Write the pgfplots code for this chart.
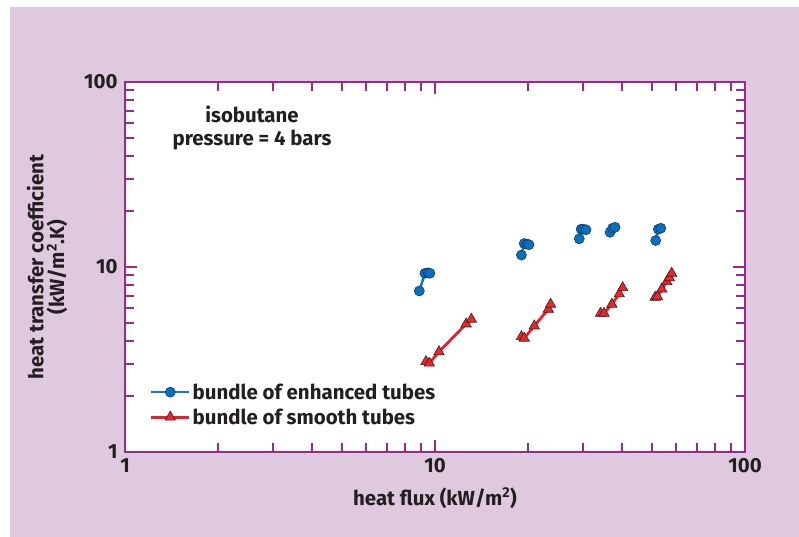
\documentclass[border=0pt]{standalone}
\usepackage{fontspec}
\setmainfont{Fira Sans}
\usepackage{pgfplots}
\pgfplotsset{compat=1.18}
\definecolor{bgpink}{HTML}{DFC9DF}
\definecolor{axpurple}{HTML}{9B2790}
\definecolor{bluefill}{HTML}{0A6FBF}
\definecolor{blueline}{HTML}{1A75C2}
\definecolor{blueedge}{HTML}{0B3D6B}
\definecolor{redfill}{HTML}{E8262C}
\definecolor{redline}{HTML}{E8202A}
\definecolor{rededge}{HTML}{3A2020}
\definecolor{txt}{HTML}{231F20}
\begin{document}
\begin{tikzpicture}[x=1bp,y=1bp]
\fill[white] (0,0) rectangle (799,537);
\fill[bgpink] (10,0) rectangle (799,530);
\begin{axis}[
  at={(125bp,85bp)}, anchor=south west,
  width=620bp, height=370bp, scale only axis,
  xmode=log, ymode=log,
  xmin=1, xmax=100, ymin=1, ymax=100,
  xtick={1,10,100}, xticklabels={1,10,100},
  ytick={1,10,100}, yticklabels={1,10,100},
  axis background/.style={fill=white},
  axis line style={axpurple, line width=2bp},
  every tick/.style={axpurple, line width=2bp},
  major tick length=12bp, minor tick length=9bp,
  tick align=inside,
  font=\fontsize{20.5}{24}\selectfont\bfseries\color{txt},
  tick label style={font=\fontsize{20.5}{24}\selectfont\bfseries\color{txt}},
  yticklabel style={xshift=-4bp},
  xticklabel style={yshift=-3bp},
  xlabel={heat flux (kW/m\textsuperscript{2})},
  ylabel={\begin{tabular}{c}heat transfer coefficient\\[-4bp](kW/m\textsuperscript{2}.K)\end{tabular}},
  xlabel style={yshift=-8bp},
  ylabel style={yshift=6bp},
  unbounded coords=jump,
  legend style={at={(0.035,0.06)}, anchor=south west, draw=none, fill=none,
    font=\fontsize{20.5}{24}\selectfont\bfseries\color{txt}, row sep=4bp},
  legend cell align=left,
  legend image code/.code={\draw[mark repeat=2,mark phase=2,#1] plot coordinates {(0bp,0bp) (19bp,0bp) (38bp,0bp)};},
]
\addplot[blueline, line width=2.5bp, mark=*, mark size=5bp,
  mark options={fill=bluefill, draw=blueedge, line width=0.6bp}]
coordinates {
(8.9,7.42) (9.28,9.25) (9.5,9.3) (9.63,9.25)
(nan,nan)
(19.0,11.6) (19.4,13.4) (19.8,13.3) (20.1,13.2)
(nan,nan)
(29.2,14.2) (29.6,16.0) (30.1,16.0) (30.7,15.9)
(nan,nan)
(36.7,15.4) (37.4,16.2) (38.1,16.4)
(nan,nan)
(51.5,13.9) (52.5,16.0) (53.5,16.2)
};
\addlegendentry{bundle of enhanced tubes}
\addplot[redline, line width=2.8bp, mark=triangle*, mark size=6bp,
  mark options={fill=redfill, draw=rededge, line width=0.6bp}]
coordinates {
(9.35,3.08) (9.59,3.02) (10.3,3.48) (12.6,4.92) (13.1,5.22)
(nan,nan)
(19.0,4.2) (19.4,4.12) (20.9,4.8) (23.2,5.91) (23.6,6.29)
(nan,nan)
(34.2,5.62) (35.1,5.62) (37.2,6.29) (39.3,7.15) (40.3,7.73)
(nan,nan)
(51.3,6.86) (52.2,6.91) (53.9,7.6) (55.9,8.33) (57.0,8.75) (58.0,9.25)
};
\addlegendentry{bundle of smooth tubes}
\node[align=center, font=\fontsize{20.5}{23}\selectfont\bfseries\color{txt}] at (axis cs:2.57,56.4) {isobutane\\pressure = 4 bars};
\end{axis}
\end{tikzpicture}
\end{document}
